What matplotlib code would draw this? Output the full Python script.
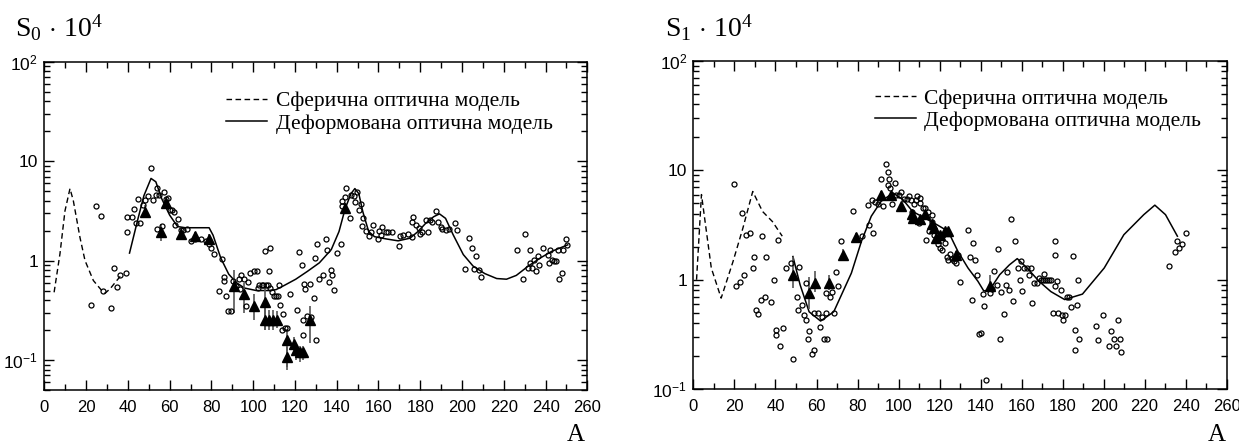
import matplotlib
matplotlib.use("Agg")
import matplotlib.pyplot as plt
from matplotlib.ticker import FixedLocator, FixedFormatter, LogLocator, NullFormatter, MultipleLocator
from matplotlib.lines import Line2D
import numpy as np

plt.rcParams['mathtext.fontset'] = 'custom'
plt.rcParams['mathtext.rm'] = 'Liberation Serif'
plt.rcParams['mathtext.it'] = 'Liberation Serif:italic'
plt.rcParams['mathtext.sf'] = 'Liberation Sans'

# ---------------- Left panel (S0) ----------------
s0_sph_A = [4.7, 7.5, 9.9, 12.3, 13.9, 17.1, 19.5, 23.5, 27.5, 29.1, 31.5, 34.7, 37.5]
s0_sph_S = [0.48, 1.17, 3.16, 5.3, 4.0, 1.7, 1.0, 0.63, 0.5, 0.47, 0.52, 0.63, 0.74]

s0_def_A = [40.8, 44.9, 47.7, 51.1, 53.4, 56.2, 60.0, 63.8, 67.5, 78.9, 80.8, 84.5, 88.3, 92.0,
            95.8, 101.5, 107.2, 110.9, 114.7, 120.4, 126.0, 131.7, 137.4, 141.1, 144.0, 146.8,
            148.7, 150.6, 152.5, 155.3, 158.1, 163.8, 169.4, 175.1, 178.9, 182.6, 186.4, 189.2,
            192.1, 195.8, 200.6, 205.3, 210.9, 216.6, 221.3, 226.0, 231.7, 237.4, 243.0, 250.6]
s0_def_S = [1.19, 2.66, 4.5, 6.7, 6.2, 4.2, 2.87, 2.2, 2.14, 2.14, 1.8, 1.06, 0.73, 0.6,
            0.53, 0.5, 0.5, 0.51, 0.56, 0.65, 0.78, 0.95, 1.29, 1.96, 3.3, 4.7,
            5.3, 4.7, 3.1, 1.96, 1.74, 1.65, 1.58, 1.68, 1.96, 2.37, 2.76, 2.95,
            2.66, 1.81, 1.15, 0.88, 0.74, 0.66, 0.65, 0.71, 0.88, 1.06, 1.24, 1.44]

s0_exp_A = [22.6, 24.7, 27.0, 27.9, 31.7, 33.6, 34.9, 36.4, 38.9, 39.8, 39.8, 42.1, 43.0, 44.0,
            45.8, 44.9, 47.2, 48.3, 49.6, 50.9, 51.9, 53.4, 54.0, 54.9, 54.0, 56.2, 57.2, 58.1,
            59.1, 60.0, 61.3, 62.3, 62.8, 64.2, 65.3, 66.6, 68.5, 70.4, 72.3, 75.1, 77.4, 78.9,
            80.0, 81.1, 85.1, 83.6, 85.8, 86.0, 87.0, 87.9, 89.2, 90.2, 92.0, 93.0, 93.6, 94.3,
            95.8, 96.8, 97.7, 98.7, 100.2, 101.9, 102.5, 102.6, 104.0, 104.9, 105.7, 106.2,
            107.2, 108.1, 107.7, 108.3, 109.1, 110.0, 110.9, 111.9, 112.5, 112.8, 114.3, 113.7,
            115.1, 116.2, 117.7, 120.8, 121.9, 123.4, 123.8, 124.5, 124.9, 123.8, 126.0, 127.2,
            127.9, 129.2, 130.2, 129.8, 130.8, 131.7, 133.6, 134.7, 135.5, 136.4, 137.4, 137.9,
            138.9, 140.2, 142.1, 142.3, 142.6, 144.0, 144.3, 146.4, 146.8, 148.3, 148.7, 149.6,
            150.6, 151.5, 152.1, 152.8, 154.0, 155.3, 156.2, 157.2, 159.6, 160.4, 161.0, 161.9,
            163.4, 164.7, 166.6, 170.0, 170.4, 171.9, 174.2, 176.0, 176.0, 176.6, 177.9, 179.4,
            179.8, 180.8, 182.6, 183.6, 184.5, 185.8, 187.4, 188.7, 189.8, 190.6, 192.1, 194.0,
            196.8, 197.7, 201.5, 203.4, 204.9, 205.7, 206.8, 208.1, 209.0, 226.4, 229.4, 230.2,
            231.7, 232.6, 232.6, 233.6, 234.5, 235.5, 236.4, 237.0, 238.9, 241.1, 241.5, 242.1,
            243.0, 244.0, 244.9, 245.8, 246.4, 247.7, 248.3, 249.6, 250.2]
s0_exp_S = [0.36, 3.55, 2.82, 0.50, 0.33, 0.85, 0.54, 0.71, 0.75, 1.96, 2.72, 2.72, 3.3, 2.4,
            2.4, 4.2, 3.65, 4.1, 4.5, 8.5, 4.1, 4.6, 5.4, 4.6, 2.07, 2.23, 4.9, 4.2,
            4.3, 3.2, 3.2, 3.1, 2.3, 2.6, 2.03, 2.03, 2.08, 1.58, 1.66, 1.66, 1.56, 1.48,
            1.34, 1.16, 1.04, 0.49, 0.68, 0.63, 0.44, 0.31, 0.31, 0.62, 0.56, 0.66, 0.52, 0.71,
            0.66, 0.35, 0.61, 0.75, 0.79, 0.79, 0.53, 0.57, 0.57, 0.57, 1.24, 0.57,
            0.57, 1.34, 0.79, 0.53, 0.48, 0.44, 0.44, 0.44, 0.57, 0.36, 0.29, 0.20,
            0.21, 0.21, 0.46, 0.32, 1.22, 0.91, 0.25, 0.58, 0.52, 0.18, 0.28, 0.58,
            0.27, 0.42, 0.16, 1.06, 1.48, 0.65, 0.72, 1.66, 1.29, 0.61, 0.81, 0.71,
            0.51, 1.19, 1.48, 3.55, 3.95, 4.35, 5.4, 2.7, 4.6, 4.5, 3.9, 4.95,
            3.2, 3.75, 2.23, 2.66, 1.99, 1.77, 1.96, 2.3, 1.66, 1.99, 1.8, 2.2,
            1.96, 1.96, 1.93, 1.39, 1.77, 1.8, 1.84, 1.74, 2.46, 2.76, 2.3, 2.15,
            1.84, 1.96, 2.56, 1.96, 2.56, 2.42, 3.15, 2.46, 2.2, 2.08, 2.02, 2.1,
            2.37, 2.03, 0.83, 1.7, 1.34, 0.83, 1.1, 0.81, 0.68, 1.29, 0.65, 1.84,
            0.85, 1.29, 0.95, 0.85, 1.02, 0.78, 1.1, 0.91, 1.34, 1.15, 0.95, 1.29,
            1.02, 0.98, 0.98, 1.29, 0.66, 0.75, 1.29, 1.66, 1.44]

s0_tri_A = [48.0, 55.7, 58.3, 65.3, 72.3, 78.9, 90.8, 95.5, 100.6, 105.8, 105.7, 107.7, 109.6,
            111.5, 116.0, 116.0, 119.4, 120.4, 122.3, 123.8, 127.0, 144.0]
s0_tri_S = [3.1, 1.96, 3.8, 1.85, 1.75, 1.65, 0.55, 0.46, 0.35, 0.38, 0.25, 0.25, 0.25,
            0.25, 0.158, 0.107, 0.146, 0.126, 0.12, 0.12, 0.25, 3.4]
s0_tri_lo = [2.7, 1.56, 3.3, 1.6, 1.55, 1.45, 0.30, 0.30, 0.25, 0.20, 0.20, 0.20, 0.20,
             0.21, 0.085, 0.079, 0.11, 0.10, 0.095, 0.10, 0.15, 3.0]
s0_tri_hi = [3.6, 2.36, 4.3, 2.1, 1.95, 1.85, 0.81, 0.60, 0.46, 0.53, 0.34, 0.32, 0.32,
             0.31, 0.205, 0.135, 0.17, 0.15, 0.14, 0.14, 0.35, 3.8]

# ---------------- Right panel (S1) ----------------
s1_sph_A = [1.5, 3.9, 8.7, 13.5, 19.3, 24.1, 28.9, 33.7, 38.5, 43.3]
s1_sph_S = [1.0, 6.0, 1.28, 0.68, 1.47, 2.96, 6.4, 4.2, 3.4, 2.5]

s1_def_A = [48.5, 52.0, 56.4, 62.0, 68.4, 72.2, 77.0, 81.9, 86.7, 91.5, 97.3, 102.1, 106.9,
            112.7, 118.5, 124.2, 129.0, 133.9, 138.7, 141.6, 144.5, 149.3, 154.1, 157.9,
            162.7, 168.5, 174.3, 181.0, 189.7, 200.3, 209.9, 219.6, 225.0, 230.2, 236.0]
s1_def_S = [1.63, 0.9, 0.51, 0.42, 0.51, 0.73, 1.15, 2.24, 3.8, 5.2, 6.2, 5.4, 4.2,
            3.67, 3.2, 2.77, 1.81, 1.28, 0.97, 0.79, 0.81, 1.11, 1.37, 1.56,
            1.28, 0.97, 0.78, 0.66, 0.74, 1.28, 2.58, 3.93, 4.8, 3.93, 2.5]

s1_exp_A = [19.8, 20.8, 22.7, 23.7, 24.7, 25.4, 27.5, 28.9, 29.5, 30.4, 31.4, 32.7, 33.3, 34.7,
            35.2, 37.6, 39.5, 40.4, 40.4, 41.0, 42.4, 43.7, 45.3, 47.6, 48.5, 50.7, 51.0, 51.6,
            53.0, 54.0, 54.9, 54.9, 55.9, 56.4, 57.8, 58.7, 58.7, 60.7, 61.6, 62.6, 63.6, 64.9,
            64.5, 64.5, 66.4, 67.4, 68.4, 69.3, 70.7, 71.8, 78.0, 82.2, 85.1, 85.7, 86.9, 87.6,
            88.6, 89.9, 91.5, 92.4, 93.8, 95.0, 95.0, 95.3, 95.9, 96.9, 98.2, 98.8, 100.2, 101.1,
            102.7, 104.0, 105.0, 105.9, 106.5, 107.5, 108.5, 109.2, 109.8, 110.4, 110.7, 111.7,
            112.7, 113.6, 114.6, 115.0, 116.1, 116.5, 117.5, 118.5, 119.4, 120.4, 121.3, 121.9,
            122.7, 123.5, 124.2, 125.2, 126.2, 127.1, 128.1, 129.0, 130.0, 133.9, 134.8, 136.2,
            137.1, 138.3, 135.8, 139.1, 140.0, 141.0, 141.9, 142.5, 144.5, 145.4, 146.4, 147.9,
            148.3, 149.3, 150.2, 151.2, 152.2, 153.1, 154.1, 155.0, 156.0, 157.0, 158.5, 159.3,
            159.9, 160.4, 161.2, 162.7, 163.7, 164.7, 165.3, 166.2, 167.6, 168.5, 169.5, 170.5,
            170.8, 171.4, 172.4, 173.3, 174.3, 175.3, 176.2, 176.2, 176.2, 177.2, 177.8, 179.1,
            179.7, 180.1, 181.0, 182.0, 183.0, 183.9, 184.9, 185.9, 185.9, 186.8, 187.4, 188.2,
            196.5, 197.4, 199.7, 202.8, 203.7, 205.1, 206.0, 207.0, 208.0, 208.6, 231.7, 235.0,
            236.0, 236.9, 238.2, 240.2]
s1_exp_S = [7.5, 0.88, 0.95, 4.1, 1.1, 2.58, 2.67, 1.28, 1.6, 0.53, 0.49, 0.66, 2.52, 0.70,
            1.6, 0.63, 1.0, 0.31, 0.35, 2.32, 0.25, 0.36, 1.28, 1.42, 0.19, 0.69, 0.53, 1.32,
            0.59, 0.48, 0.43, 0.93, 0.29, 0.34, 0.21, 0.23, 0.5, 0.5, 0.37, 0.46, 0.29, 0.29,
            0.5, 0.76, 0.69, 0.77, 0.5, 1.19, 0.88, 2.24, 4.27, 2.49, 4.8, 3.19, 5.3, 2.67,
            5.1, 4.9, 8.4, 4.75, 11.4, 9.7, 7.4, 8.4, 6.9, 4.9, 7.65, 5.9, 6.0, 6.3,
            5.5, 5.5, 5.77, 5.3, 4.2, 4.9, 5.3, 5.77, 3.3, 5.0, 5.6, 4.5,
            4.5, 2.32, 4.2, 2.77, 3.93, 3.4, 2.58, 2.32, 2.12, 1.97, 1.88, 2.58,
            2.16, 1.6, 1.52, 1.72, 1.56, 1.47, 1.42, 1.69, 0.95, 2.86, 1.63, 2.16,
            1.52, 1.1, 0.66, 0.32, 0.33, 0.74, 0.58, 0.122, 0.76, 0.83, 1.21, 0.90,
            1.91, 0.29, 0.77, 0.49, 0.90, 1.19, 0.81, 3.6, 0.64, 2.24, 1.28, 1.0,
            1.47, 0.79, 1.28, 1.28, 1.11, 1.28, 0.62, 0.93, 0.93, 1.04, 1.0, 1.0,
            1.13, 1.0, 1.0, 1.0, 1.0, 0.5, 1.67, 2.27, 0.87, 0.98, 0.5, 0.81,
            0.48, 0.43, 0.48, 0.7, 0.7, 0.57, 1.66, 0.35, 0.23, 0.59, 1.0, 0.29,
            0.38, 0.28, 0.48, 0.25, 0.34, 0.29, 0.25, 0.43, 0.29, 0.22, 1.34, 1.81,
            2.24, 1.97, 2.12, 2.67]

s1_tri_A = [48.5, 56.4, 59.1, 65.9, 72.8, 79.5, 91.5, 96.5, 101.1, 106.5, 107.3, 110.7, 112.7,
            116.5, 117.5, 118.5, 120.0, 122.7, 124.2, 127.9, 144.5]
s1_tri_S = [1.11, 0.76, 0.93, 0.93, 1.69, 2.45, 6.0, 5.9, 4.7, 3.98, 3.7, 3.6, 3.98,
            3.2, 2.96, 2.4, 2.58, 2.77, 2.8, 1.67, 0.87]
s1_tri_lo = [0.84, 0.54, 0.78, 0.80, 1.55, 2.3, 5.6, 5.5, 4.4, 3.7, 3.4, 3.3, 3.7,
             3.0, 2.75, 2.2, 2.4, 2.6, 2.6, 1.55, 0.82]
s1_tri_hi = [1.63, 1.05, 1.20, 1.10, 1.90, 2.65, 6.4, 6.3, 5.0, 4.25, 4.0, 3.9, 4.25,
             3.4, 3.15, 2.6, 2.75, 2.95, 3.0, 1.85, 1.10]

leg_labels = ["Сферична оптична модель", "Деформована оптична модель"]
xticks = list(range(0, 261, 20))

fig = plt.figure(figsize=(12.39, 4.48), dpi=100)
axL = fig.add_axes([0.03575, 0.1295, 0.4383, 0.7328])
axR = fig.add_axes([0.5597, 0.1310, 0.4303, 0.7335])

def style(ax, ylim, yt, ytl):
    ax.set_yscale('log')
    ax.set_xlim(0, 260)
    ax.set_ylim(*ylim)
    ax.xaxis.set_major_locator(FixedLocator(xticks))
    ax.xaxis.set_minor_locator(MultipleLocator(10))
    ax.yaxis.set_major_locator(FixedLocator(yt))
    ax.yaxis.set_major_formatter(FixedFormatter(ytl))
    ax.yaxis.set_minor_locator(LogLocator(base=10, subs=np.arange(2, 10)))
    ax.yaxis.set_minor_formatter(NullFormatter())
    ax.tick_params(which='both', direction='in', top=True, right=True, color='black')
    ax.tick_params(which='major', length=7, width=1.0)
    ax.tick_params(which='minor', length=4.5, width=1.0)
    ax.tick_params(axis='x', which='major', pad=7, labelsize=12)
    ax.tick_params(axis='y', which='major', pad=4.5, labelsize=12.5)
    for lab in ax.get_xticklabels() + ax.get_yticklabels():
        lab.set_fontfamily('Liberation Sans')
    for sp in ax.spines.values():
        sp.set_linewidth(1.1)

def draw(ax, sphA, sphS, defA, defS, expA, expS, tA, tS, tlo, thi, legpos):
    ax.plot(sphA, sphS, color='black', lw=1.0, ls=(0, (4, 2.5)))
    ax.plot(defA, defS, color='black', lw=1.1, ls='-')
    tS = np.array(tS)
    yerr = [tS - np.array(tlo), np.array(thi) - tS]
    ax.errorbar(tA, tS, yerr=yerr, fmt='none', ecolor='#555555', elinewidth=1.2, capsize=0, zorder=2)
    ax.plot(tA, tS, ls='none', marker='^', ms=6.5, color='black', zorder=3)
    ax.plot(expA, expS, ls='none', marker='o', ms=3.6, mfc='none', mec='black', mew=0.9, zorder=4)
    handles = [Line2D([], [], color='black', lw=1.0, ls=(0, (4, 2.5))),
               Line2D([], [], color='black', lw=1.1)]
    ax.legend(handles, leg_labels, loc='upper left', bbox_to_anchor=legpos, frameon=False,
              prop={'family': 'Liberation Serif', 'size': 15.5}, handlelength=1.9,
              handletextpad=0.4, labelspacing=0.1, borderpad=0, borderaxespad=0)

style(axL, (0.05, 100), [0.1, 1, 10, 100], [r'$\mathsf{10^{-1}}$', '1', '10', r'$\mathsf{10^{2}}$'])
style(axR, (0.1, 100), [0.1, 1, 10, 100], [r'$\mathsf{10^{-1}}$', '1', '10', r'$\mathsf{10^{2}}$'])

draw(axL, s0_sph_A, s0_sph_S, s0_def_A, s0_def_S, s0_exp_A, s0_exp_S,
     s0_tri_A, s0_tri_S, s0_tri_lo, s0_tri_hi, (0.335, 0.91))
draw(axR, s1_sph_A, s1_sph_S, s1_def_A, s1_def_S, s1_exp_A, s1_exp_S,
     s1_tri_A, s1_tri_S, s1_tri_lo, s1_tri_hi, (0.340, 0.915))

fig.text(15/1239, 1-37/448, r'$\mathrm{S_0\,\cdot\,10^4}$', fontsize=20, ha='left', va='baseline')
fig.text(665/1239, 1-37/448, r'$\mathrm{S_1\,\cdot\,10^4}$', fontsize=20, ha='left', va='baseline')
fig.text(576/1239, 1-446/448, 'A', fontsize=18, family='Liberation Serif', ha='center', va='bottom')
fig.text(1217/1239, 1-446/448, 'A', fontsize=18, family='Liberation Serif', ha='center', va='bottom')

fig.savefig('out.png', dpi=100)
